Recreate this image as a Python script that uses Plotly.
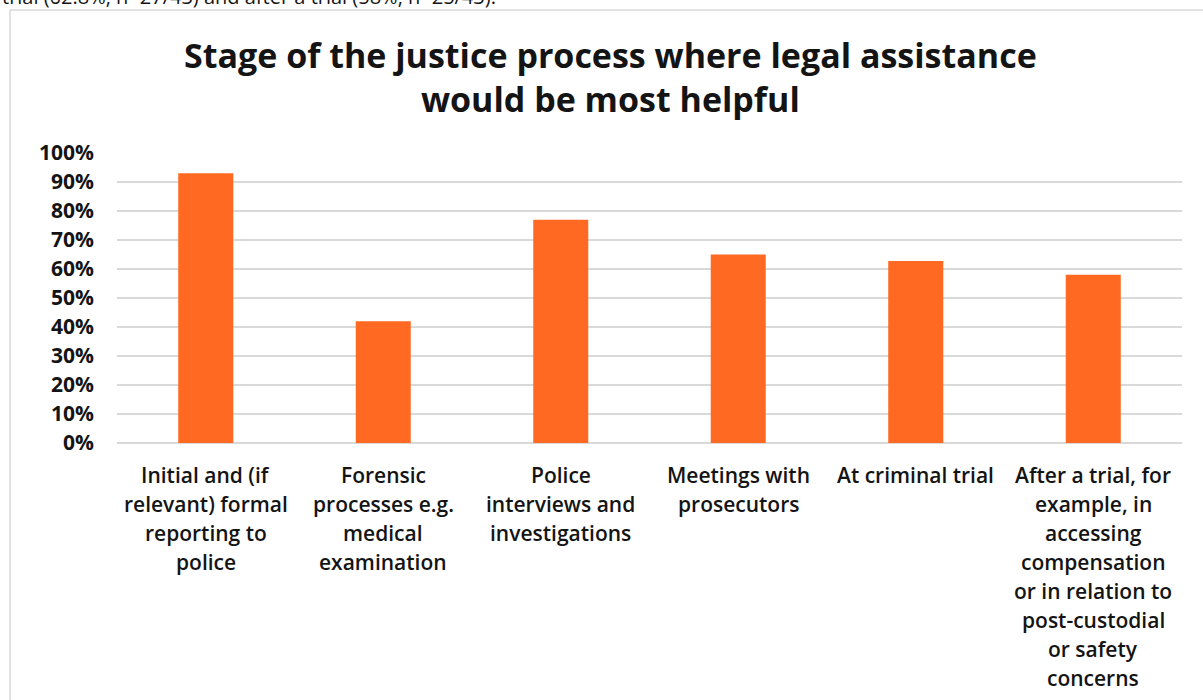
import plotly.graph_objects as go

# Survey results: stage where legal assistance would help most
categories = [
    "Initial and (if<br>relevant) formal<br>reporting to<br>police",
    "Forensic<br>processes e.g.<br>medical<br>examination",
    "Police<br>interviews and<br>investigations",
    "Meetings with<br>prosecutors",
    "At criminal trial",
    "After a trial, for<br>example, in<br>accessing<br>compensation<br>or in relation to<br>post-custodial<br>or safety<br>concerns",
]
shares = [0.93, 0.42, 0.77, 0.65, 0.628, 0.58]
y_ticks = [i / 10 for i in range(11)]

title_text = "Stage of the justice process where legal assistance<br>would be most helpful"
lead_in_text = "trial (62.8%, n=27/43) and after a trial (58%, n=25/43)."

BAR_COLOR = "#FF6921"
GRID_COLOR = "#D9D9D9"
TEXT_COLOR = "#141414"
FONT = "Open Sans"

# plot-area geometry in pixels
W, H = 1203, 700
L, R, T, B = 117, 21, 153, 257
PW, PH = W - L - R, H - T - B


def px_x(px):
    return (px - L) / PW


def px_y(px):
    return (H - B - px) / PH


fig = go.Figure(
    go.Bar(
        x=categories,
        y=shares,
        marker=dict(color=BAR_COLOR, line=dict(width=0)),
        hoverinfo="skip",
    )
)

fig.update_layout(
    width=W,
    height=H,
    margin=dict(l=L, r=R, t=T, b=B),
    paper_bgcolor="white",
    plot_bgcolor="white",
    bargap=0.69,
    showlegend=False,
    font=dict(family=FONT, color=TEXT_COLOR),
)

fig.update_xaxes(showgrid=False, showline=False, ticks="", showticklabels=False)

fig.update_yaxes(
    range=[0, 1],
    tickvals=y_ticks,
    tickformat=".0%",
    showgrid=True,
    gridcolor=GRID_COLOR,
    gridwidth=2,
    zeroline=True,
    zerolinecolor=GRID_COLOR,
    zerolinewidth=2,
    showline=False,
    ticks="",
    ticklabelstandoff=22,
    tickfont=dict(family=FONT, size=21, weight=700, color=TEXT_COLOR),
)

# Category labels, one line at a time for a looser line height
for cat in categories:
    for i, line in enumerate(cat.split("<br>")):
        fig.add_annotation(
            text=line,
            x=cat,
            xref="x",
            y=0,
            yref="paper",
            yanchor="middle",
            yshift=-(32 + 29 * i),
            showarrow=False,
            font=dict(family=FONT, size=21, weight=600, color=TEXT_COLOR),
        )

# Chart title
fig.add_annotation(
    text=title_text,
    xref="paper",
    yref="paper",
    x=px_x(610),
    xanchor="center",
    y=px_y(30),
    yanchor="top",
    showarrow=False,
    font=dict(family=FONT, size=34, weight=700, color=TEXT_COLOR),
)

# Chart frame (extends past the right and bottom page edges)
fig.add_shape(
    type="rect",
    xref="paper",
    yref="paper",
    x0=px_x(10),
    x1=px_x(1210),
    y0=px_y(720),
    y1=px_y(10),
    line=dict(color=GRID_COLOR, width=1.5),
    fillcolor="rgba(0,0,0,0)",
    layer="below",
)

# Tail of the preceding paragraph, cut off at the page top
fig.add_annotation(
    text=lead_in_text,
    xref="paper",
    yref="paper",
    x=px_x(0),
    xanchor="left",
    y=px_y(12),
    yanchor="bottom",
    showarrow=False,
    font=dict(family=FONT, size=20, color=TEXT_COLOR),
)

fig.write_html("out.html")
